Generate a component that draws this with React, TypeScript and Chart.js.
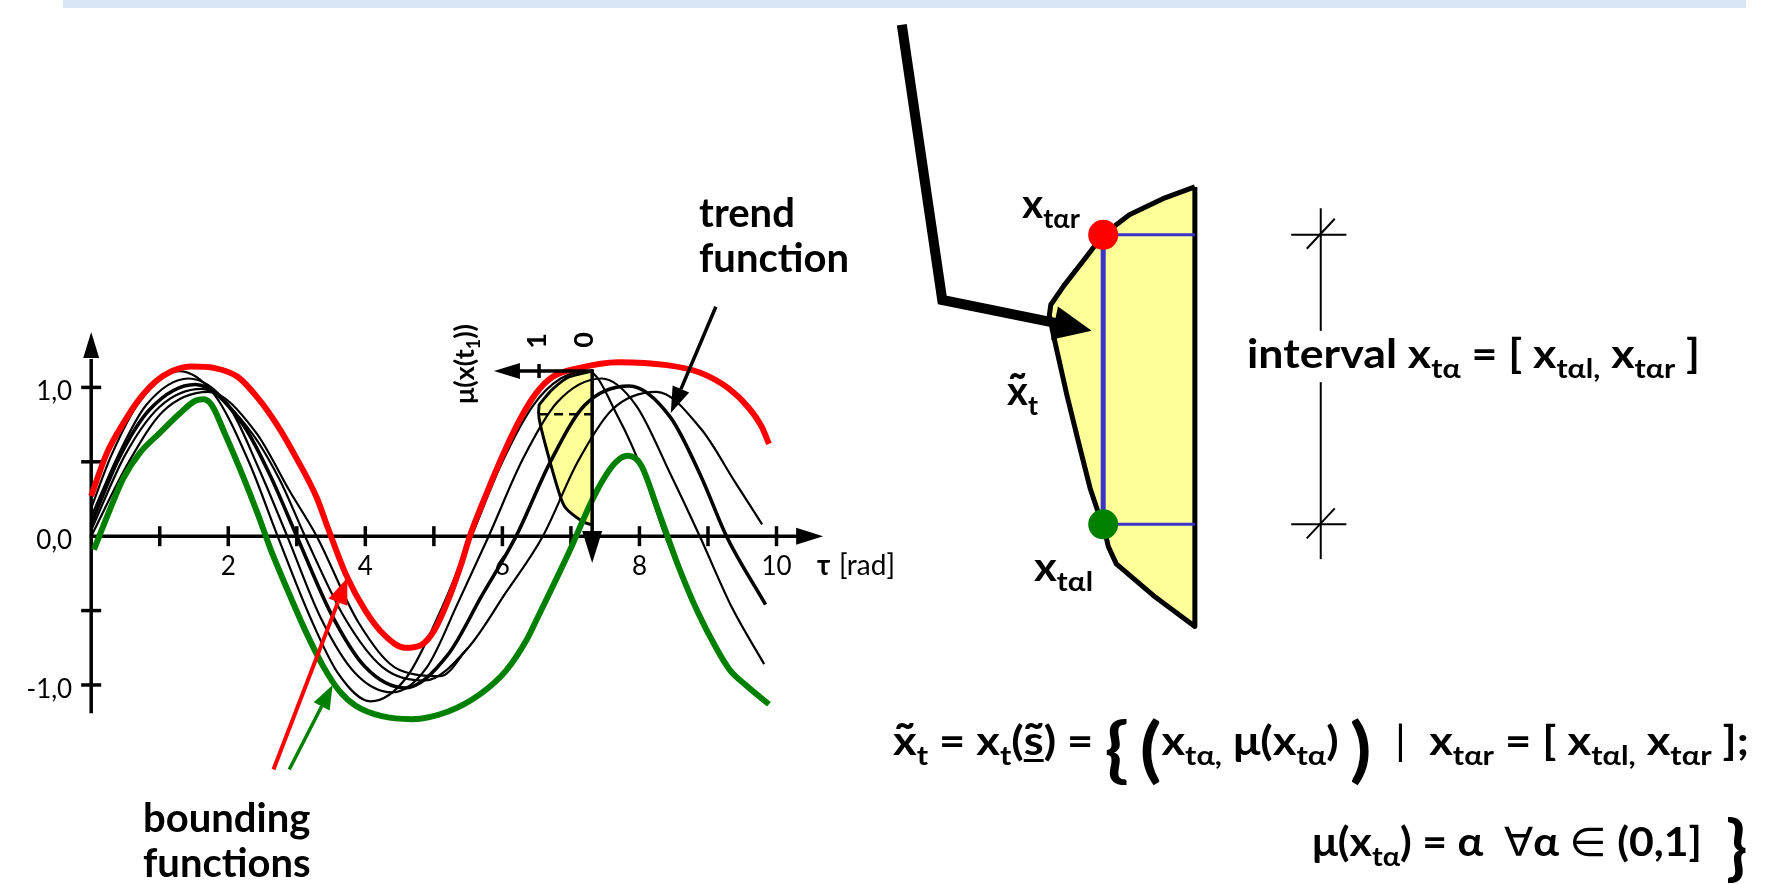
import React, { useEffect, useRef } from "react";
import { Chart, registerables } from "chart.js";

Chart.register(...registerables);

type Pt = [number, number];

const W = 1789;
const H = 884;
const FONT = "Lato, 'DejaVu Sans', sans-serif";

// ---------- data: τ [rad] against x(τ) ----------
const upperBound: Pt[] = [
  [0, 0.27], [0.23, 0.56], [0.47, 0.76], [0.7, 0.92], [0.94, 1.04], [1.18, 1.11],
  [1.47, 1.14], [1.8, 1.13], [2.14, 1.07], [2.43, 0.93], [2.71, 0.75], [3.0, 0.52],
  [3.29, 0.26], [3.45, 0.06], [3.72, -0.26], [4.0, -0.5], [4.29, -0.67], [4.58, -0.75],
  [4.82, -0.73], [5.01, -0.63], [5.2, -0.44], [5.39, -0.2], [5.54, 0.02], [5.78, 0.3],
  [6.01, 0.55], [6.25, 0.78], [6.49, 0.96], [6.73, 1.07], [7.11, 1.13], [7.69, 1.17],
  [8.4, 1.15], [8.88, 1.1], [9.31, 0.99], [9.6, 0.86], [9.79, 0.73], [9.89, 0.62],
];

const lowerBound: Pt[] = [
  [0.04, -0.09], [0.23, 0.13], [0.47, 0.39], [0.71, 0.56], [0.99, 0.69], [1.28, 0.82],
  [1.52, 0.91], [1.64, 0.92], [1.76, 0.88], [1.95, 0.69], [2.19, 0.43], [2.43, 0.15],
  [2.62, -0.09], [2.91, -0.41], [3.14, -0.65], [3.38, -0.87], [3.62, -1.04], [3.86, -1.14],
  [4.24, -1.21], [4.68, -1.23], [5.2, -1.18], [5.68, -1.06], [6.06, -0.9], [6.35, -0.7],
  [6.49, -0.57], [6.97, -0.11], [7.35, 0.28], [7.64, 0.49], [7.83, 0.54], [8.02, 0.48],
  [8.26, 0.19], [8.55, -0.18], [8.84, -0.5], [9.13, -0.76], [9.32, -0.9], [9.55, -1.0],
  [9.89, -1.13],
];

const path1: Pt[] = [
  [0, 0.19], [0.3, 0.55], [0.7, 0.9], [1.28, 1.11], [1.8, 0.95], [2.3, 0.5], [2.72, 0],
  [3.2, -0.55], [3.6, -0.92], [4.08, -1.11], [4.6, -0.95], [5.1, -0.5], [5.55, 0],
  [6.0, 0.5], [6.45, 0.88], [6.85, 1.06], [7.25, 1.11], [7.69, 0.8], [8.07, 0.41],
  [8.36, 0.02], [8.6, -0.25], [8.9, -0.57], [9.2, -0.82], [9.3, -0.88],
];

const path2: Pt[] = [
  [0, 0.13], [0.4, 0.55], [0.8, 0.88], [1.42, 1.06], [2.0, 0.88], [2.45, 0.45], [2.86, 0],
  [3.35, -0.55], [3.85, -0.92], [4.39, -1.05], [4.9, -0.88], [5.35, -0.45], [5.8, 0],
  [6.3, 0.52], [6.8, 0.9], [7.45, 1.06], [7.95, 0.88], [8.45, 0.42], [8.88, 0],
  [9.35, -0.48], [9.82, -0.86],
];

// trend function
const path3: Pt[] = [
  [0, 0.08], [0.4, 0.52], [0.85, 0.85], [1.52, 1.02], [2.2, 0.76], [2.6, 0.42], [3.0, 0],
  [3.5, -0.52], [4.0, -0.88], [4.58, -1.02], [5.2, -0.8], [5.7, -0.4], [6.2, 0],
  [6.7, 0.5], [7.2, 0.88], [7.85, 1.01], [8.45, 0.8], [8.9, 0.4], [9.27, 0], [9.84, -0.46],
];

const path4: Pt[] = [
  [0, 0.04], [0.5, 0.55], [1.0, 0.87], [1.61, 0.99], [2.3, 0.72], [2.75, 0.38], [3.12, 0],
  [3.7, -0.55], [4.25, -0.88], [4.87, -0.97], [5.5, -0.75], [6.05, -0.38], [6.59, 0],
  [7.1, 0.5], [7.6, 0.85], [8.25, 0.97], [8.9, 0.72], [9.4, 0.36], [9.79, 0.08],
];

const path5: Pt[] = [
  [0, 0.0], [0.55, 0.5], [1.05, 0.84], [1.71, 0.97], [2.4, 0.7], [2.9, 0.3], [3.29, 0],
  [3.9, -0.58], [4.5, -0.9], [5.1, -0.94], [5.5, -0.75],
];

// membership μ(x(t1)) at τ = t1: [μ, x]
const memberSmall: Pt[] = [
  [0, 1.11], [0.44, 1.07], [0.74, 0.99], [0.96, 0.9], [1.0, 0.88], [1.0, 0.795],
  [0.87, 0.6], [0.63, 0.3], [0.5, 0.19], [0.19, 0.1], [0.04, 0.08], [0, 0.08],
];
const memberSmallCut = 0.82;

// enlarged fuzzy value x̃t: [μ, x]
const memberLarge: Pt[] = [
  [0, 1.1], [0.22, 1.073], [0.45, 1.036], [0.63, 0.99], [0.76, 0.933], [0.9, 0.873],
  [0.99, 0.829], [1.0, 0.805], [0.97, 0.756], [0.88, 0.622], [0.79, 0.5], [0.72, 0.407],
  [0.66, 0.347], [0.63, 0.324], [0.595, 0.273], [0.54, 0.233], [0.27, 0.156], [0, 0.089],
  [0, 1.1],
];
const alphaLevel = 0.63;
const xRight = 0.99;
const xLeft = 0.324;

// axes of the left plot
const yTickValues = [-1, -0.5, 0.5, 1];
const yTickLabels: [number, string][] = [[1, "1,0"], [0, "0,0"], [-1, "-1,0"]];
const xTickValues = [1, 2, 3, 4, 5, 6, 7, 8, 9, 10];
const xTickLabels = [2, 4, 6, 8, 10];

// ---------- geometry of the scales ----------
const ORIGIN_X = 77.5;
const ORIGIN_Y = 539.5;
const PX_PER_TAU = 69.7;
const PX_PER_X = 154;
const MU0_X = 587;
const PX_PER_MU = 54;
const BIG_MU0_X = 1200;
const BIG_PX_PER_MU = 148;
const BIG_TOP_Y = 178;
const BIG_TOP_V = 1.1;
const BIG_PX_PER_V = 450;

const X_AXIS_END = 10.68;
const Y_AXIS_MIN = -1.19;
const Y_AXIS_MAX = 1.373;
const INSET_MU_END = 1.85;
const INSET_X_TOP = 1.11;
const INSET_X_END = -0.18;

const toXY = (arr: Pt[]) => arr.map(([x, y]) => ({ x, y }));

// ---------- drawing helpers ----------
function arrowHead(ctx: CanvasRenderingContext2D, tx: number, ty: number, fx: number, fy: number, len: number, half: number) {
  const dx = fx - tx, dy = fy - ty;
  const d = Math.hypot(dx, dy) || 1;
  const ux = dx / d, uy = dy / d;
  const bx = tx + ux * len, by = ty + uy * len;
  ctx.beginPath();
  ctx.moveTo(tx, ty);
  ctx.lineTo(bx - uy * half, by + ux * half);
  ctx.lineTo(bx + uy * half, by - ux * half);
  ctx.closePath();
  ctx.fill();
  return [bx, by];
}

function seg(ctx: CanvasRenderingContext2D, x1: number, y1: number, x2: number, y2: number) {
  ctx.beginPath();
  ctx.moveTo(x1, y1);
  ctx.lineTo(x2, y2);
  ctx.stroke();
}

type Run = { t: string; sub?: boolean; big?: number; tilde?: boolean; under?: boolean; light?: boolean };

const SUB = 0.68;

function drawTilde(ctx: CanvasRenderingContext2D, x: number, w: number, baseline: number, size: number) {
  const prev = ctx.font;
  ctx.font = `bold ${Math.round(size * 1.2)}px ${FONT}`;
  const m = ctx.measureText("˜");
  const gw = m.actualBoundingBoxRight + m.actualBoundingBoxLeft;
  const gx = x + w / 2 - gw / 2 + m.actualBoundingBoxLeft;
  const bottom = baseline - size * 0.52 - 5;
  ctx.fillText("˜", gx, bottom - m.actualBoundingBoxDescent);
  ctx.font = prev;
}

function runFont(r: Run, size: number) {
  const s = r.big ? r.big : r.sub ? Math.round(size * SUB) : size;
  return `${r.light ? "normal" : "bold"} ${s}px ${FONT}`;
}

function runsWidth(ctx: CanvasRenderingContext2D, runs: Run[], size: number) {
  let w = 0;
  for (const r of runs) {
    ctx.font = runFont(r, size);
    w += ctx.measureText(r.t).width;
  }
  return w;
}

function drawRuns(ctx: CanvasRenderingContext2D, x: number, y: number, runs: Run[], size: number, bigCenter = y - size * 0.3) {
  let cx = x;
  ctx.textAlign = "left";
  ctx.textBaseline = "alphabetic";
  for (const r of runs) {
    ctx.font = runFont(r, size);
    const m = ctx.measureText(r.t);
    if (r.big) {
      const by = bigCenter + (m.actualBoundingBoxAscent - m.actualBoundingBoxDescent) / 2;
      ctx.fillText(r.t, cx, by);
      cx += m.width;
      continue;
    }
    const s = r.sub ? Math.round(size * SUB) : size;
    const dy = r.sub ? size * 0.24 : 0;
    ctx.fillText(r.t, cx, y + dy);
    if (r.tilde) drawTilde(ctx, cx, m.width, y + dy, s);
    if (r.under) ctx.fillRect(cx, y + dy + 4, m.width, 3);
    cx += m.width;
  }
  return cx;
}

// draws a line of runs stretched horizontally to span the given width
function drawRunsFit(ctx: CanvasRenderingContext2D, x: number, y: number, width: number, runs: Run[], size: number, bigCenter?: number) {
  const natural = runsWidth(ctx, runs, size);
  ctx.save();
  ctx.translate(x, 0);
  ctx.scale(width / natural, 1);
  drawRuns(ctx, 0, y, runs, size, bigCenter);
  ctx.restore();
}

function rotatedRuns(ctx: CanvasRenderingContext2D, cx: number, cy: number, runs: Run[], size: number) {
  ctx.save();
  ctx.translate(cx, cy);
  ctx.rotate(-Math.PI / 2);
  const w = runsWidth(ctx, runs, size);
  drawRuns(ctx, -w / 2, size * 0.36, runs, size);
  ctx.restore();
}

// ---------- plugin: axes, annotations and text ----------
const diagramPlugin = {
  id: "fuzzyDiagram",
  beforeDatasetsDraw(chart: any) {
    const { ctx } = chart;
    const sx = chart.scales.x, sy = chart.scales.y;
    const x0 = sx.getPixelForValue(0), y0 = sy.getPixelForValue(0);
    ctx.save();
    ctx.strokeStyle = "#000";
    ctx.fillStyle = "#000";
    ctx.lineWidth = 3.5;
    ctx.lineCap = "butt";

    // y axis with arrow
    const yTop = sy.getPixelForValue(Y_AXIS_MAX);
    const yBot = sy.getPixelForValue(Y_AXIS_MIN);
    const [, yb] = arrowHead(ctx, x0, yTop, x0, yBot, 26, 8);
    seg(ctx, x0, yBot, x0, yb + 1);
    // x axis with arrow
    const xEnd = sx.getPixelForValue(X_AXIS_END);
    const [xb] = arrowHead(ctx, xEnd, y0, x0, y0, 27, 8.5);
    seg(ctx, x0 - 1.5, y0, xb + 1, y0);

    for (const v of yTickValues) {
      const py = sy.getPixelForValue(v);
      seg(ctx, x0 - 10, py, x0 + 10, py);
    }
    for (const v of xTickValues) {
      const px = sx.getPixelForValue(v);
      seg(ctx, px, y0 - 10, px, y0 + 10);
    }

    ctx.font = `normal 26px ${FONT}`;
    ctx.textAlign = "right";
    ctx.textBaseline = "alphabetic";
    for (const [v, s] of yTickLabels) {
      ctx.fillText(s, x0 - 19, sy.getPixelForValue(v) + 13);
    }
    ctx.textAlign = "center";
    for (const v of xTickLabels) {
      ctx.fillText(String(v), sx.getPixelForValue(v), y0 + 38.5);
    }
    ctx.textAlign = "left";
    ctx.font = `bold 28px ${FONT}`;
    ctx.fillText("τ", 817, y0 + 38.5);
    ctx.font = `normal 28px ${FONT}`;
    ctx.fillText("[rad]", 839, y0 + 38.5);
    ctx.restore();
  },

  afterDatasetsDraw(chart: any) {
    const { ctx } = chart;
    const sx = chart.scales.x, sy = chart.scales.y;
    const mu = chart.scales.mu;
    const mx = chart.scales.mx, vy = chart.scales.vy;
    ctx.save();
    ctx.strokeStyle = "#000";
    ctx.fillStyle = "#000";

    // membership axes at τ = t1
    ctx.lineWidth = 3.5;
    const ax0 = mu.getPixelForValue(0);
    const axY = sy.getPixelForValue(INSET_X_TOP);
    const axEnd = mu.getPixelForValue(INSET_MU_END);
    const [hb] = arrowHead(ctx, axEnd, axY, ax0, axY, 26, 8);
    seg(ctx, hb - 1, axY, ax0 + 1.5, axY);
    const one = mu.getPixelForValue(1);
    seg(ctx, one, axY - 7, one, axY + 7);
    const vEnd = sy.getPixelForValue(INSET_X_END);
    const [, vb] = arrowHead(ctx, ax0, vEnd, ax0, axY, 32, 10);
    seg(ctx, ax0, axY - 1.5, ax0, vb + 1);

    ctx.save();
    ctx.fillStyle = "#000";
    rotatedRuns(ctx, one - 3, 341, [{ t: "1" }], 27);
    rotatedRuns(ctx, ax0 - 9, 340, [{ t: "0" }], 27);
    rotatedRuns(ctx, 464, 364, [{ t: "μ(x(t" }, { t: "1", sub: true }, { t: "))" }], 27);
    ctx.restore();

    // pointer arrows
    const arrow = (from: Pt, to: Pt, color: string, width: number, len: number, half: number) => {
      ctx.strokeStyle = color;
      ctx.fillStyle = color;
      ctx.lineWidth = width;
      const fx = sx.getPixelForValue(from[0]), fy = sy.getPixelForValue(from[1]);
      const tx = sx.getPixelForValue(to[0]), ty = sy.getPixelForValue(to[1]);
      const [bx, by] = arrowHead(ctx, tx, ty, fx, fy, len, half);
      seg(ctx, fx, fy, bx, by);
    };
    arrow([2.66, -1.568], [3.737, -0.28], "#ff0000", 4, 26, 10);
    arrow([2.89, -1.568], [3.523, -1.0], "#008000", 3.5, 24, 9);
    arrow([9.115, 1.542], [8.457, 0.828], "#000000", 3.5, 26, 9);

    // big pointer from the slide header to the enlarged fuzzy value
    ctx.strokeStyle = "#000";
    ctx.fillStyle = "#000";
    ctx.lineWidth = 10;
    ctx.lineJoin = "miter";
    const p0 = [mx.getPixelForValue(2.014), vy.getPixelForValue(1.473)];
    const p1 = [mx.getPixelForValue(1.736), vy.getPixelForValue(0.84)];
    const tip = [mx.getPixelForValue(0.709), vy.getPixelForValue(0.769)];
    const [bbx, bby] = arrowHead(ctx, tip[0], tip[1], p1[0], p1[1], 38, 17);
    ctx.beginPath();
    ctx.moveTo(p0[0], p0[1]);
    ctx.lineTo(p1[0], p1[1]);
    ctx.lineTo(bbx + 2, bby);
    ctx.stroke();

    // interval marker
    ctx.lineWidth = 2;
    const ix = mx.getPixelForValue(-0.865);
    const iL = mx.getPixelForValue(-0.662), iR = mx.getPixelForValue(-1.041);
    const yR = vy.getPixelForValue(xRight), yL = vy.getPixelForValue(xLeft);
    seg(ctx, ix, vy.getPixelForValue(1.051), ix, vy.getPixelForValue(0.769));
    seg(ctx, ix, vy.getPixelForValue(0.651), ix, vy.getPixelForValue(0.244));
    for (const py of [yR, yL]) {
      seg(ctx, iL, py, iR, py);
      seg(ctx, ix - 14, py + 14, ix + 14, py - 16);
    }
    ctx.restore();
  },

  afterDraw(chart: any) {
    const { ctx } = chart;
    ctx.save();
    // slide header band
    ctx.fillStyle = "#d9e6f5";
    ctx.fillRect(63, 0, 1683, 8);

    ctx.fillStyle = "#000";
    drawRuns(ctx, 699, 227, [{ t: "trend" }], 40);
    drawRuns(ctx, 699, 272, [{ t: "function" }], 40);
    drawRuns(ctx, 143, 832, [{ t: "bounding" }], 40);
    drawRuns(ctx, 143, 877, [{ t: "functions" }], 40);

    drawRunsFit(ctx, 1022, 218, 58, [{ t: "x" }, { t: "tαr", sub: true }], 40);
    drawRuns(ctx, 1007, 405, [{ t: "x", tilde: true }, { t: "t", sub: true }], 40);
    drawRunsFit(ctx, 1034, 581, 59, [{ t: "x" }, { t: "tαl", sub: true }], 40);

    drawRunsFit(ctx, 1247, 368, 453, [
      { t: "interval x" }, { t: "tα", sub: true }, { t: " = [ x" }, { t: "tαl,", sub: true },
      { t: " x" }, { t: "tαr", sub: true }, { t: " ]" },
    ], 40);

    drawRunsFit(ctx, 893, 755, 856, [
      { t: "x", tilde: true }, { t: "t", sub: true }, { t: " = x" }, { t: "t", sub: true },
      { t: "(" }, { t: "s", tilde: true, under: true }, { t: ") = " },
      { t: "{", big: 70 }, { t: " " }, { t: "(", big: 70 }, { t: "x" }, { t: "tα,", sub: true },
      { t: " μ(x" }, { t: "tα", sub: true }, { t: ")" }, { t: " " }, { t: ")", big: 70 },
      { t: "  |  ", light: true }, { t: "x" }, { t: "tαr", sub: true }, { t: " = [ x" },
      { t: "tαl,", sub: true }, { t: " x" }, { t: "tαr", sub: true }, { t: " ];" },
    ], 40, 752);

    drawRunsFit(ctx, 1312, 856, 390, [
      { t: "μ(x" }, { t: "tα", sub: true }, { t: ") = α  " }, { t: "∀", light: true },
      { t: "α " }, { t: "∈", light: true }, { t: " (0,1]" },
    ], 40);
    drawRuns(ctx, 1726, 856, [{ t: "}", big: 70 }], 40, 850);
    ctx.restore();
  },
};

export default function App() {
  const canvasRef = useRef<HTMLCanvasElement | null>(null);

  useEffect(() => {
    const canvas = canvasRef.current;
    if (!canvas) return;

    const thin = 2.2;
    const curve = (data: Pt[], color: string, width: number, order: number) => ({
      data: toXY(data),
      xAxisID: "x",
      yAxisID: "y",
      borderColor: color,
      borderWidth: width,
      borderCapStyle: "butt" as const,
      cubicInterpolationMode: "monotone" as const,
      pointRadius: 0,
      fill: false,
      order,
    });

    const chart = new Chart(canvas, {
      type: "line",
      data: {
        datasets: [
          {
            data: [{ x: alphaLevel, y: xRight }],
            xAxisID: "mx", yAxisID: "vy",
            pointRadius: 15, pointBackgroundColor: "#ff0000", pointBorderWidth: 0,
            showLine: false, order: 0,
          },
          {
            data: [{ x: alphaLevel, y: xLeft }],
            xAxisID: "mx", yAxisID: "vy",
            pointRadius: 15, pointBackgroundColor: "#008000", pointBorderWidth: 0,
            showLine: false, order: 0,
          },
          {
            data: [{ x: alphaLevel, y: xRight }, { x: alphaLevel, y: xLeft }],
            xAxisID: "mx", yAxisID: "vy",
            borderColor: "#3b34c9", borderWidth: 5, pointRadius: 0, order: 1,
          },
          {
            data: [{ x: alphaLevel, y: xRight }, { x: 0, y: xRight }],
            xAxisID: "mx", yAxisID: "vy",
            borderColor: "#3b34c9", borderWidth: 3, pointRadius: 0, order: 1,
          },
          {
            data: [{ x: alphaLevel, y: xLeft }, { x: 0, y: xLeft }],
            xAxisID: "mx", yAxisID: "vy",
            borderColor: "#3b34c9", borderWidth: 3, pointRadius: 0, order: 1,
          },
          {
            data: toXY(memberLarge),
            xAxisID: "mx", yAxisID: "vy",
            borderColor: "#000", borderWidth: 5, borderJoinStyle: "round",
            backgroundColor: "#ffff99", fill: "shape", pointRadius: 0, order: 2,
          },
          curve(lowerBound, "#008000", 6, 3),
          curve(upperBound, "#ff0000", 6, 4),
          curve(path1, "#000", thin, 5),
          curve(path2, "#000", thin, 6),
          curve(path3, "#000", 3.6, 7),
          curve(path4, "#000", thin, 8),
          curve(path5, "#000", thin, 9),
          {
            data: [{ x: 1, y: memberSmallCut }, { x: 0, y: memberSmallCut }],
            xAxisID: "mu", yAxisID: "y",
            borderColor: "#000", borderWidth: 2.5, borderDash: [9, 6], pointRadius: 0, order: 10,
          },
          {
            data: toXY(memberSmall),
            xAxisID: "mu", yAxisID: "y",
            borderColor: "#000", borderWidth: 3, borderJoinStyle: "round", tension: 0.3,
            backgroundColor: "#ffff99", fill: "shape", pointRadius: 0, order: 11,
          },
        ] as any,
      },
      options: {
        animation: false,
        responsive: false,
        devicePixelRatio: 1,
        events: [],
        layout: { padding: 0 },
        plugins: { legend: { display: false }, tooltip: { enabled: false } },
        elements: { point: { radius: 0 } },
        scales: {
          x: {
            type: "linear", display: false,
            min: -ORIGIN_X / PX_PER_TAU, max: (W - ORIGIN_X) / PX_PER_TAU,
          },
          y: {
            type: "linear", display: false,
            min: (ORIGIN_Y - H) / PX_PER_X, max: ORIGIN_Y / PX_PER_X,
          },
          mu: {
            type: "linear", axis: "x", position: "bottom", display: false, reverse: true,
            min: -(W - MU0_X) / PX_PER_MU, max: MU0_X / PX_PER_MU,
          },
          mx: {
            type: "linear", axis: "x", position: "bottom", display: false, reverse: true,
            min: -(W - BIG_MU0_X) / BIG_PX_PER_MU, max: BIG_MU0_X / BIG_PX_PER_MU,
          },
          vy: {
            type: "linear", axis: "y", position: "left", display: false,
            min: BIG_TOP_V - (H - BIG_TOP_Y) / BIG_PX_PER_V, max: BIG_TOP_V + BIG_TOP_Y / BIG_PX_PER_V,
          },
        } as any,
      },
      plugins: [diagramPlugin],
    });

    return () => chart.destroy();
  }, []);

  return (
    <div style={{ position: "absolute", left: 0, top: 0, width: W, height: H, background: "#fff" }}>
      <canvas ref={canvasRef} width={W} height={H} style={{ display: "block", width: W, height: H }} />
    </div>
  );
}
